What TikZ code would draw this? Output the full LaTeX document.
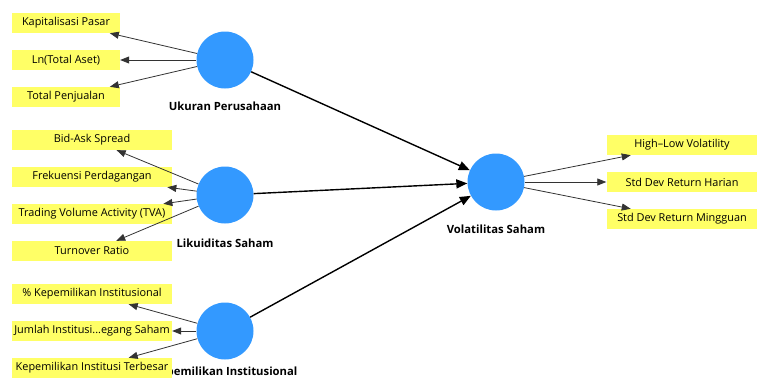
\documentclass[tikz,border=0pt]{standalone}
\usepackage{fontspec}
\setmainfont{Open Sans}
\usetikzlibrary{arrows.meta}
\definecolor{lvblue}{RGB}{51,153,255}
\definecolor{indyellow}{RGB}{255,255,102}
\tikzset{
  ind/.style={fill=indyellow, minimum height=20pt, inner sep=0pt, font=\fontsize{10.9}{12}\selectfont},
  indA/.style={ind, minimum width=108pt},
  indB/.style={ind, minimum width=160pt},
  indC/.style={ind, minimum width=151pt},
  lv/.style={circle, fill=lvblue, minimum size=57pt, inner sep=0pt},
  lvlabel/.style={font=\bfseries\fontsize{11.3}{13}\selectfont},
  loading/.style={-{Triangle[length=9pt,width=7pt]}, draw=black!80, line width=0.8pt},
  structural/.style={-{Triangle[length=11pt,width=9pt]}, draw=black, line width=1.4pt}
}
\begin{document}
\begin{tikzpicture}[x=1pt,y=-1pt]
      \useasboundingbox (0,0) rectangle (757,380);
      % latent labels (drawn first, the boxes lie over them)
      \draw
        (225,106) node[lvlabel] (ukl){Ukuran Perusahaan}
        (225,243) node[lvlabel] (lsl){Likuiditas Saham}
        (225,373) node[lvlabel] (kil){Kepemilikan Institusional}
        (496,229) node[lvlabel] (vsl){Volatilitas Saham};
      % indicators
      \draw
        (66,23) node[indA] (kp){Kapitalisasi Pasar}
        (66,60) node[indA] (ln){Ln(Total Aset)}
        (66,97) node[indA] (tp){Total Penjualan}
        (92,140) node[indB] (bas){Bid-Ask Spread}
        (92,177) node[indB] (fp){Frekuensi Perdagangan}
        (92,214) node[indB] (tva){Trading Volume Activity (TVA)}
        (92,251) node[indB] (tr){Turnover Ratio}
        (92,294) node[indB] (pki){\% Kepemilikan Institusional}
        (92,331) node[indB] (jis){Jumlah Institusi...egang Saham}
        (92,368) node[indB] (kit){Kepemilikan Institusi Terbesar}
        (682,145) node[indC] (hlv){High--Low Volatility}
        (682,182) node[indC] (sdh){Std Dev Return Harian}
        (682,219) node[indC] (sdm){Std Dev Return Mingguan};
      % latent variables
      \draw
        (225,60) node[lv] (uk){}
        (225,195) node[lv] (ls){}
        (225,331) node[lv] (ki){}
        (496,182) node[lv] (vs){};
      \begin{scope}[loading]
        \draw (uk) to (kp);
        \draw (uk) to (ln);
        \draw (uk) to (tp);
        \draw (ls) to (bas);
        \draw (ls) to (fp);
        \draw (ls) to (tva);
        \draw (ls) to (tr);
        \draw (ki) to (pki);
        \draw (ki) to (jis);
        \draw (ki) to (kit);
        \draw (vs) to (hlv);
        \draw (vs) to (sdh);
        \draw (vs) to (sdm);
      \end{scope}
      \begin{scope}[structural]
        \draw (uk) to (vs);
        \draw (ls) to (vs);
        \draw (ki) to (vs);
      \end{scope}
    \end{tikzpicture}
\end{document}
